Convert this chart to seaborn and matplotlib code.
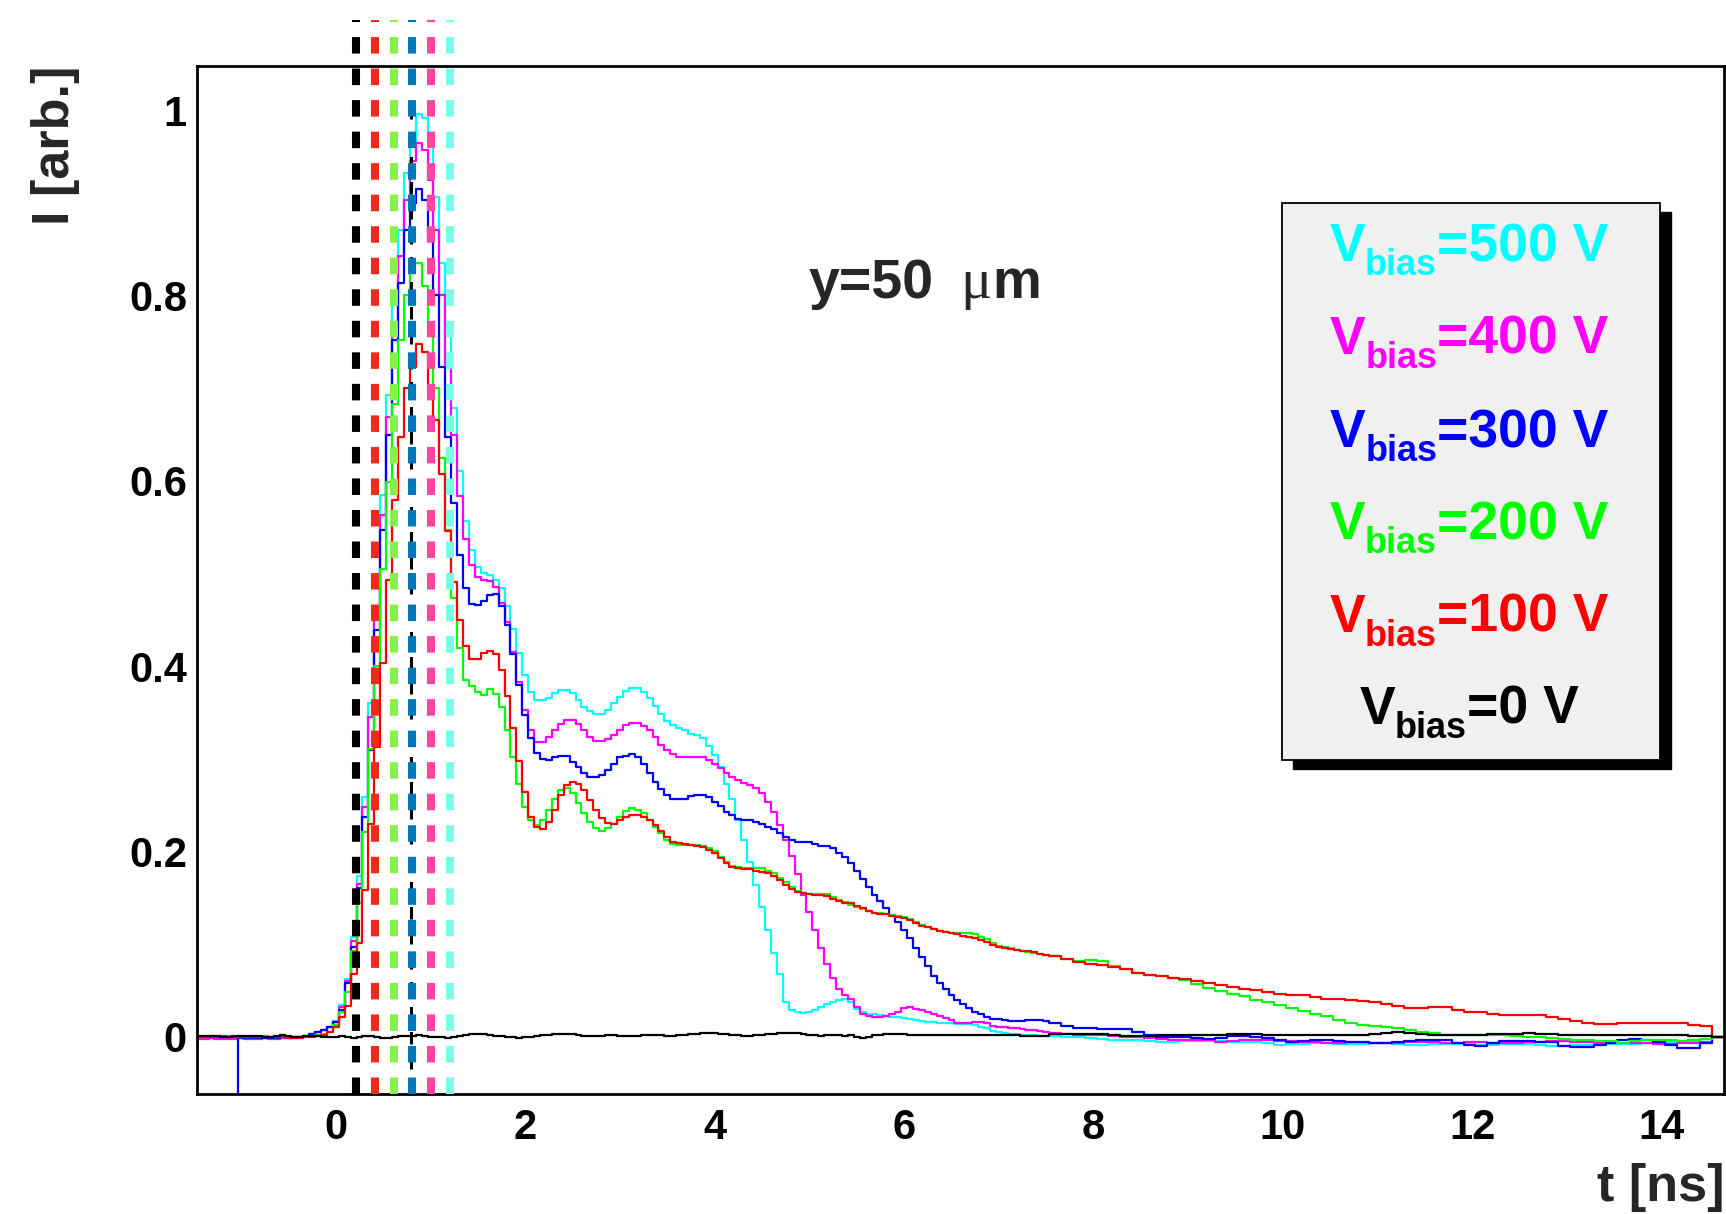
import numpy as np
import pandas as pd
import matplotlib
matplotlib.use("Agg")
import matplotlib.pyplot as plt
import seaborn as sns
from matplotlib.ticker import MultipleLocator, FormatStrFormatter
from matplotlib.patches import Rectangle

sns.set_theme(style="white")
plt.rcParams["font.family"] = ["Liberation Sans", "DejaVu Sans"]
plt.rcParams["font.weight"] = "bold"
plt.rcParams["lines.scale_dashes"] = False

W, H = 1726, 1214
YMIN, YMAX = -0.0618, 1.0475
XMIN, XMAX = -1.46875, 14.65625

# --- binning: 0.0625 ns bins up to 7.53 ns, 0.125 ns bins in the tail ---
fine_edges = XMIN + 0.0625 * np.arange(145)
tail_edges = fine_edges[-1] + 0.125 * np.arange(1, 58)
edges = np.concatenate([fine_edges, tail_edges])

# --- signals (I [arb.]) per bias voltage ---
cyan_fine = [
    -0.001, -0.001, -0.0015, -0.001, -0.0005, -0.001, -0.001, -0.0015, -0.001, -0.001, -0.0005, -0.001, -0.001, -0.001, -0.0015, -0.001,
    -0.001, 0.0, 0.001, 0.003, 0.005, 0.007, 0.011, 0.017, 0.034, 0.062, 0.108, 0.173, 0.259, 0.36, 0.457, 0.585,
    0.6925, 0.79, 0.871, 0.932, 0.965, 0.996, 0.991, 0.96, 0.906, 0.835, 0.757, 0.678, 0.61, 0.557, 0.525, 0.507,
    0.50, 0.498, 0.493, 0.484, 0.465, 0.44, 0.414, 0.39, 0.372, 0.363, 0.363, 0.365, 0.371, 0.374, 0.374, 0.371,
    0.363, 0.356, 0.351, 0.348, 0.348, 0.353, 0.36, 0.367, 0.373, 0.376, 0.376, 0.372, 0.365, 0.357, 0.348, 0.341,
    0.336, 0.333, 0.331, 0.327, 0.326, 0.322, 0.314, 0.304, 0.291, 0.273, 0.256, 0.234, 0.212, 0.189, 0.164, 0.14,
    0.115, 0.09, 0.068, 0.038, 0.029, 0.027, 0.026, 0.027, 0.029, 0.032, 0.035, 0.038, 0.040, 0.041, 0.038, 0.030,
    0.027, 0.025, 0.024, 0.023, 0.022, 0.021, 0.021, 0.020, 0.019, 0.018, 0.017, 0.016, 0.016, 0.015, 0.015, 0.015,
    0.014, 0.014, 0.014, 0.013, 0.011, 0.009, 0.006, 0.005, 0.004, 0.003, 0.003, 0.002, 0.002, 0.002, 0.001, 0.001,
]
cyan_tail = [
    0.001, 0.0, -0.0005, -0.001, -0.002, -0.003, -0.003, -0.004, -0.005, -0.0055, -0.0055, -0.005, -0.005, -0.005, -0.005, -0.006, -0.006, -0.006, -0.007, -0.009,
    -0.008, -0.008, -0.007, -0.007, -0.008, -0.008, -0.008, -0.007, -0.007, -0.008, -0.009, -0.009, -0.008, -0.008, -0.008, -0.008, -0.009, -0.009, -0.008, -0.008,
    -0.008, -0.009, -0.010, -0.010, -0.009, -0.009, -0.008, -0.008, -0.008, -0.008, -0.007, -0.007, -0.006, -0.006, -0.006, -0.007, 0.0,
]

magenta_fine = [
    -0.002, -0.002, -0.0015, -0.002, -0.002, -0.0025, -0.002, -0.0015, -0.002, -0.002, -0.002, -0.0015, -0.002, -0.002, -0.0015, -0.001,
    -0.001, 0.0, 0.001, 0.003, 0.005, 0.007, 0.010, 0.016, 0.032, 0.060, 0.103, 0.165, 0.248, 0.345, 0.453, 0.563,
    0.669, 0.763, 0.842, 0.903, 0.945, 0.964, 0.957, 0.925, 0.87, 0.80, 0.725, 0.649, 0.583, 0.537, 0.509, 0.496,
    0.493, 0.492, 0.485, 0.468, 0.448, 0.4155, 0.383, 0.353, 0.331, 0.318, 0.318, 0.323, 0.331, 0.3375, 0.342, 0.342,
    0.3375, 0.331, 0.323, 0.3195, 0.3195, 0.321, 0.3256, 0.331, 0.3364, 0.339, 0.339, 0.3353, 0.331, 0.323, 0.3148, 0.3094,
    0.305, 0.302, 0.302, 0.302, 0.302, 0.3015, 0.2986, 0.2943, 0.2896, 0.2842, 0.2806, 0.277, 0.2742, 0.2716, 0.268, 0.2626,
    0.2537, 0.2428, 0.2285, 0.2123, 0.195, 0.1755, 0.153, 0.135, 0.115, 0.096, 0.078, 0.063, 0.052, 0.045, 0.041, 0.032,
    0.024, 0.022, 0.0216, 0.0216, 0.022, 0.024, 0.027, 0.031, 0.0317, 0.030, 0.029, 0.027, 0.025, 0.022, 0.020, 0.018,
    0.015, 0.015, 0.015, 0.016, 0.0163, 0.015, 0.012, 0.011, 0.010, 0.009, 0.009, 0.008, 0.0075, 0.007, 0.006, 0.005,
]
magenta_tail = [
    0.004, 0.0025, 0.0018, 0.0016, 0.0016, 0.001, 0.0, -0.0007, -0.0015, -0.0025, -0.003, -0.003, -0.003, -0.004, -0.0054, -0.005, -0.004, -0.0036, -0.004, -0.0043,
    -0.005, -0.006, -0.006, -0.007, -0.007, -0.006, -0.006, -0.007, -0.007, -0.007, -0.006, -0.006, -0.006, -0.007, -0.007, -0.006, -0.006, -0.007, -0.007, -0.007,
    -0.006, -0.006, -0.005, -0.005, -0.006, -0.006, -0.007, -0.007, -0.007, -0.007, -0.007, -0.008, -0.008, -0.007, -0.007, -0.006, 0.0,
]

blue_fine = [
    np.nan, np.nan, np.nan, np.nan, np.nan, np.nan, np.nan, -0.001, -0.001, -0.001, -0.0015, -0.001, -0.001, -0.001, -0.0005, -0.001,
    -0.0005, 0.0, 0.001, 0.003, 0.005, 0.007, 0.010, 0.016, 0.029, 0.0575, 0.097, 0.16, 0.237, 0.309, 0.439, 0.547,
    0.649, 0.752, 0.813, 0.871, 0.90, 0.915, 0.903, 0.861, 0.80, 0.723, 0.6475, 0.5755, 0.52, 0.484, 0.467, 0.466,
    0.4705, 0.4766, 0.4777, 0.4647, 0.4442, 0.4129, 0.3796, 0.3472, 0.322, 0.3058, 0.2993, 0.2986, 0.3022, 0.303, 0.303, 0.2968,
    0.2914, 0.2849, 0.2806, 0.28, 0.2825, 0.2879, 0.2943, 0.3015, 0.303, 0.3051, 0.3015, 0.2943, 0.2849, 0.2752, 0.267, 0.2609,
    0.2562, 0.2562, 0.2565, 0.2598, 0.2609, 0.2609, 0.259, 0.2537, 0.249, 0.2429, 0.2393, 0.2346, 0.2339, 0.2339, 0.232, 0.2296,
    0.2267, 0.2238, 0.2194, 0.2151, 0.2123, 0.2105, 0.2105, 0.2105, 0.208, 0.2058, 0.2058, 0.2033, 0.1986, 0.1936, 0.1871, 0.1792,
    0.1698, 0.1619, 0.1529, 0.146, 0.139, 0.131, 0.124, 0.115, 0.106, 0.096, 0.086, 0.076, 0.066, 0.058, 0.051, 0.045,
    0.040, 0.035, 0.031, 0.027, 0.024, 0.021, 0.019, 0.019, 0.018, 0.017, 0.017, 0.017, 0.018, 0.018, 0.018, 0.017,
]
blue_tail = [
    0.015, 0.012, 0.009, 0.009, 0.0085, 0.008, 0.008, 0.005, 0.002, 0.0, 0.0, 0.0, -0.001, -0.0025, -0.001, 0.001, 0.001, 0.0, -0.001, -0.004,
    -0.0055, -0.005, -0.004, -0.0036, -0.005, -0.0054, -0.006, -0.007, -0.0072, -0.006, -0.005, -0.004, -0.0036, -0.004, -0.007, -0.009, -0.0097, -0.007, -0.005, -0.0043,
    -0.005, -0.0054, -0.006, -0.0105, -0.011, -0.011, -0.009, -0.0065, -0.004, -0.002, -0.003, -0.006, -0.009, -0.0126, -0.0126, -0.0072, 0.0,
]

green_fine = [
    0.0, 0.0, 0.0005, 0.0, 0.0, 0.0005, 0.0, 0.0, -0.0005, 0.0, 0.0, 0.0005, 0.0, 0.0, 0.002, 0.001,
    0.0, 0.0, 0.001, 0.001, 0.002, 0.003, 0.005, 0.013, 0.027, 0.048, 0.092, 0.144, 0.221, 0.31, 0.40, 0.505,
    0.599, 0.683, 0.752, 0.80, 0.835, 0.835, 0.81, 0.76, 0.70, 0.624, 0.547, 0.473, 0.419, 0.385, 0.378, 0.372,
    0.369, 0.375, 0.37, 0.3555, 0.331, 0.302, 0.273, 0.248, 0.234, 0.2285, 0.234, 0.245, 0.256, 0.266, 0.268, 0.2626,
    0.2526, 0.2418, 0.232, 0.225, 0.2224, 0.225, 0.2296, 0.2375, 0.244, 0.2465, 0.245, 0.241, 0.234, 0.226, 0.2195, 0.2123,
    0.208, 0.207, 0.207, 0.207, 0.207, 0.206, 0.2033, 0.2008, 0.1943, 0.1889, 0.1842, 0.1828, 0.1817, 0.1817, 0.1817, 0.1817,
    0.1792, 0.1763, 0.1709, 0.1673, 0.162, 0.1576, 0.1554, 0.154, 0.154, 0.154, 0.154, 0.151, 0.148, 0.145, 0.142, 0.140,
    0.138, 0.136, 0.134, 0.133, 0.132, 0.131, 0.130, 0.129, 0.127, 0.124, 0.121, 0.118, 0.116, 0.114, 0.113, 0.112,
    0.112, 0.112, 0.112, 0.111, 0.108, 0.105, 0.101, 0.098, 0.097, 0.096, 0.094, 0.093, 0.091, 0.090, 0.089, 0.088,
]
green_tail = [
    0.087, 0.084, 0.082, 0.083, 0.082, 0.076, 0.073, 0.069, 0.067, 0.065, 0.063, 0.061, 0.057, 0.053, 0.049, 0.046, 0.044, 0.040, 0.037, 0.034,
    0.031, 0.028, 0.025, 0.022, 0.018, 0.015, 0.013, 0.012, 0.011, 0.009, 0.007, 0.005, 0.004, 0.002, 0.002, 0.002, 0.002, 0.002, 0.002, 0.001,
    0.0, 0.0, -0.001, -0.002, -0.003, -0.004, -0.005, -0.005, -0.0065, -0.005, -0.003, -0.003, -0.004, -0.0043, -0.003, -0.002, 0.0,
]

red_fine = [
    0.0, 0.0, 0.0, 0.0, 0.0005, 0.0, 0.0, 0.0, 0.0, -0.0005, 0.0, 0.0, 0.0, 0.0, -0.0005, -0.001,
    -0.001, -0.001, 0.0, 0.0, 0.001, 0.002, 0.005, 0.011, 0.021, 0.033, 0.068, 0.101, 0.158, 0.23, 0.313, 0.403,
    0.493, 0.579, 0.647, 0.70, 0.723, 0.748, 0.739, 0.70, 0.665, 0.607, 0.546, 0.491, 0.45, 0.422, 0.408, 0.408,
    0.414, 0.4165, 0.413, 0.396, 0.368, 0.333, 0.297, 0.2645, 0.2375, 0.226, 0.224, 0.232, 0.245, 0.261, 0.272, 0.275,
    0.273, 0.266, 0.2555, 0.245, 0.236, 0.231, 0.2296, 0.234, 0.2375, 0.239, 0.239, 0.2375, 0.234, 0.2285, 0.2224, 0.216,
    0.2105, 0.2094, 0.208, 0.207, 0.2058, 0.2044, 0.2015, 0.198, 0.1925, 0.188, 0.1835, 0.1817, 0.1806, 0.1806, 0.179, 0.178,
    0.177, 0.1734, 0.169, 0.164, 0.159, 0.1565, 0.155, 0.154, 0.153, 0.1525, 0.152, 0.149, 0.147, 0.144, 0.144, 0.141,
    0.1385, 0.136, 0.134, 0.1325, 0.132, 0.130, 0.129, 0.128, 0.126, 0.123, 0.120, 0.118, 0.116, 0.114, 0.113, 0.112,
    0.111, 0.109, 0.108, 0.106, 0.104, 0.102, 0.099, 0.097, 0.096, 0.095, 0.094, 0.093, 0.092, 0.091, 0.089, 0.088,
]
red_tail = [
    0.087, 0.084, 0.081, 0.079, 0.077, 0.075, 0.073, 0.069, 0.067, 0.065, 0.063, 0.062, 0.060, 0.058, 0.056, 0.054, 0.052, 0.050, 0.048, 0.046,
    0.045, 0.045, 0.043, 0.041, 0.041, 0.040, 0.039, 0.037, 0.035, 0.033, 0.031, 0.031, 0.032, 0.032, 0.029, 0.027, 0.027, 0.024, 0.0234, 0.0234,
    0.023, 0.023, 0.021, 0.019, 0.017, 0.015, 0.014, 0.014, 0.015, 0.015, 0.015, 0.015, 0.015, 0.015, 0.013, 0.0115, 0.0,
]

black_fine = [
    0.0005, 0.0005, 0.001, 0.0005, 0.0, 0.0, 0.0005, 0.0005, 0.001, 0.001, 0.0005, 0.0, 0.0, 0.001, 0.002, 0.001,
    0.0, 0.0, 0.0005, 0.001, 0.0005, 0.0, -0.0005, 0.0, 0.0005, 0.0, -0.001, 0.0, 0.001, 0.0005, 0.0, -0.001,
    -0.001, 0.0, 0.0005, 0.0005, 0.001, 0.0015, 0.001, 0.0, 0.0, -0.0005, -0.001, 0.0, 0.001, 0.002, 0.0025, 0.003,
    0.0025, 0.002, 0.001, 0.0005, 0.0, -0.0005, -0.001, -0.0005, 0.0, 0.001, 0.0015, 0.002, 0.0025, 0.003, 0.003, 0.0025,
    0.002, 0.001, 0.0005, 0.0005, 0.001, 0.0015, 0.0015, 0.001, 0.0005, 0.0005, 0.001, 0.0015, 0.002, 0.002, 0.0015, 0.001,
    0.001, 0.0015, 0.002, 0.0025, 0.003, 0.0035, 0.004, 0.0035, 0.003, 0.0025, 0.002, 0.0015, 0.001, 0.001, 0.0015, 0.002,
    0.0025, 0.003, 0.0035, 0.004, 0.004, 0.0035, 0.003, 0.002, 0.0015, 0.001, 0.0015, 0.002, 0.0015, 0.001, 0.0014, 0.0,
    -0.001, 0.0, 0.0014, 0.002, 0.0026, 0.0026, 0.0026, 0.0026, 0.0022, 0.0022, 0.0022, 0.0022, 0.002, 0.0022, 0.0022, 0.0022,
    0.0014, 0.0014, 0.0014, 0.0014, 0.0014, 0.0014, 0.0014, 0.0014, 0.0014, 0.0014, 0.0014, 0.001, 0.0007, 0.0007, 0.0007, 0.0007,
]
black_tail = [
    0.0026, 0.0026, 0.0026, 0.0026, 0.0026, 0.002, 0.0007, 0.0007, 0.0007, 0.0022, 0.0022, 0.0022, 0.0014, 0.0014, 0.0014, 0.0029, 0.0029, 0.0029, 0.0022, 0.0022,
    0.0018, 0.0018, 0.0018, 0.0018, 0.0018, 0.0018, 0.0018, 0.003, 0.0045, 0.0054, 0.0045, 0.003, 0.0018, 0.0018, 0.0018, 0.0018, 0.002, 0.0025, 0.0025, 0.003,
    0.004, 0.003, 0.0025, 0.002, 0.002, 0.002, 0.0018, 0.0018, 0.0018, 0.002, 0.002, 0.002, 0.002, 0.0015, 0.0012, 0.001, 0.0,
]

bias_labels = ["500", "400", "300", "200", "100", "0"]
bias_colors = ["#00ffff", "#ff00ff", "#0000ff", "#00ff00", "#ff0000", "#000000"]
signals = [
    cyan_fine + cyan_tail, magenta_fine + magenta_tail, blue_fine + blue_tail,
    green_fine + green_tail, red_fine + red_tail, black_fine + black_tail,
]

# drift-time markers (ns) and their colours
marker_times = [0.212, 0.410, 0.610, 0.808, 1.005, 1.203]
marker_colors = ["#000000", "#ee2b1b", "#88f04a", "#0077b8", "#ff45a0", "#78ffe6"]
peak_time = 0.79

for s in signals:
    assert len(s) == len(edges) - 1, len(s)

fig = plt.figure(figsize=(W / 100, H / 100), dpi=100)
ax = fig.add_axes([196.7 / W, 1 - 1094 / H, (1724 - 196.7) / W, (1094 - 66) / H])

# histograms drawn as outlines, starting from the pad baseline (ROOT style)
for vals, col in zip(signals, bias_colors):
    v = np.asarray(vals, dtype=float)
    first = int(np.flatnonzero(~np.isnan(v))[0])
    x = np.concatenate([[edges[first]], edges[first:]])
    y = np.concatenate([[YMIN], v[first:], [v[-1]]])
    df = pd.DataFrame({"t": x, "I": y})
    sns.lineplot(data=df, x="t", y="I", drawstyle="steps-post", color=col, lw=1.6,
                 estimator=None, sort=False, ax=ax, zorder=2)

ax.vlines([peak_time], YMIN, 1.01, color="black", lw=2.2, linestyles=[(0, (9, 9))], zorder=3)
ax.vlines(marker_times, YMIN, 1.097, colors=marker_colors, lw=5.8,
          linestyles=[(0, (11.9, 10.8))], zorder=4, clip_on=False)

ax.set_xlim(XMIN, XMAX)
ax.set_ylim(YMIN, YMAX)
ax.set_xlabel("")
ax.set_ylabel("")
ax.xaxis.set_major_locator(MultipleLocator(2))
ax.xaxis.set_minor_locator(MultipleLocator(0.5))
ax.yaxis.set_major_locator(MultipleLocator(0.2))
ax.yaxis.set_minor_locator(MultipleLocator(0.05))
ax.xaxis.set_major_formatter(FormatStrFormatter("%g"))
ax.yaxis.set_major_formatter(FormatStrFormatter("%g"))
ax.tick_params(axis="both", which="both", direction="in", top=False, right=False,
               width=1.4, color="black", labelsize=30, labelcolor="black")
ax.tick_params(axis="x", which="major", length=22.3, pad=10)
ax.tick_params(axis="x", which="minor", length=10.8)
ax.tick_params(axis="y", which="major", length=32.4, pad=7)
ax.tick_params(axis="y", which="minor", length=16.3)
for sp in ax.spines.values():
    sp.set_color("black")
    sp.set_linewidth(2.0)
ax.set_facecolor("white")

# axis titles
fig.text(31 / W, 1 - 66 / H, "I [arb.]", rotation=90, ha="left", va="top", fontsize=37.5)
fig.text(1724 / W, 2 / H, "t [ns]", ha="right", va="bottom", fontsize=37.5)

# position label
ax.text(4.99, 0.797, "y=50", fontsize=40, va="baseline", ha="left")
ax.text(6.594, 0.797, "\u03bc", fontsize=42, va="baseline", ha="left",
        family=["Liberation Serif", "DejaVu Serif"], fontweight="normal")
ax.text(6.93, 0.797, "m", fontsize=39.5, va="baseline", ha="left")

# legend box with shadow
bx0, by0, bx1, by1 = 1282, 203, 1660, 760
fig.add_artist(Rectangle(((bx0 + 11) / W, 1 - (by1 + 9) / H), (bx1 - bx0) / W, (by1 - by0) / H,
                         transform=fig.transFigure, facecolor="black", edgecolor="black", lw=1, zorder=5))
fig.add_artist(Rectangle((bx0 / W, 1 - by1 / H), (bx1 - bx0) / W, (by1 - by0) / H,
                         transform=fig.transFigure, facecolor="#f0f0f0", edgecolor="black", lw=1.3, zorder=6))

# legend entries: "V", subscript "bias", "=... V", centred as one line
renderer = fig.canvas.get_renderer()
baselines = [261, 354, 447, 539, 632, 724]
for lab, col, yb in zip(bias_labels, bias_colors, baselines):
    parts = [("V", 38.5, 0), ("bias", 26, 14), ("=" + lab + " V", 38.5, 0)]
    texts = [fig.text(0, 1 - (yb + dy) / H, s, fontsize=fs, color=col, ha="left",
                      va="baseline", zorder=7) for s, fs, dy in parts]
    widths = [t.get_window_extent(renderer).width for t in texts]
    xpos = 1469 - sum(widths) / 2
    for t, w in zip(texts, widths):
        t.set_x(xpos / W)
        xpos += w

fig.savefig("out.png", dpi=100)
